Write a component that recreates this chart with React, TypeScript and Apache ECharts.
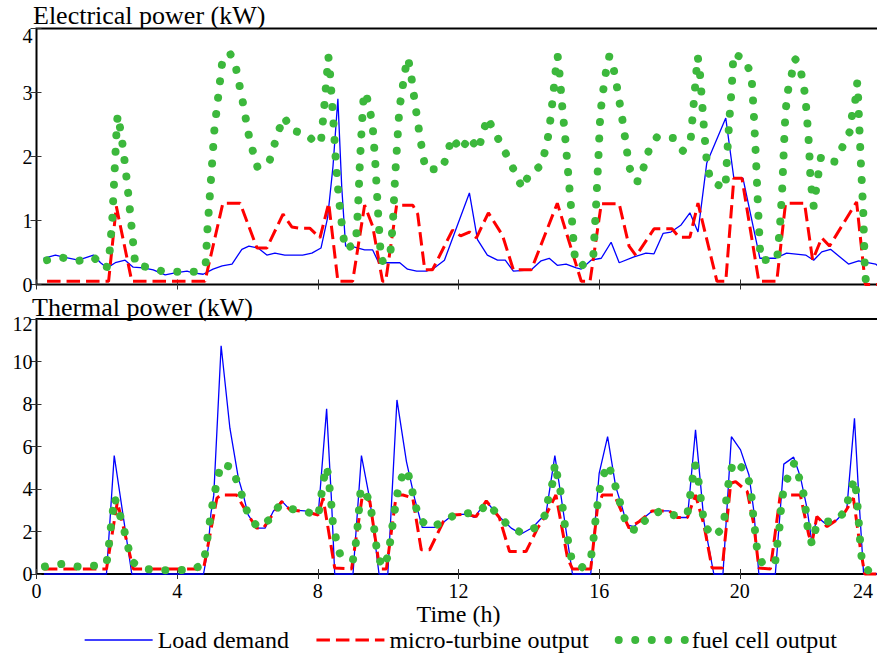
import React, { useEffect, useRef } from "react";
import * as echarts from "echarts";

// ---------- data (time in hours, power in kW) ----------
const X_MAX = 24;
const X_STEP = 4;
const ELEC_MAX = 4;
const ELEC_STEP = 1;
const THERM_MAX = 12;
const THERM_STEP = 2;

const TITLE_ELEC = "Electrical power (kW)";
const TITLE_THERM = "Thermal power (kW)";
const X_NAME = "Time (h)";
const NAME_LOAD = "Load demand";
const NAME_MT = "micro-turbine output";
const NAME_FC = "fuel cell output";

const elecLoad: [number, number][] = [[0.20,0.41],[0.54,0.46],[0.74,0.43],[1.19,0.38],[1.62,0.46],[1.82,0.34],[2.01,0.26],[2.24,0.34],[2.52,0.38],[2.75,0.27],[3.04,0.26],[3.32,0.23],[3.66,0.15],[3.94,0.18],[4.28,0.21],[4.45,0.18],[4.74,0.16],[5.02,0.24],[5.28,0.29],[5.56,0.32],[5.84,0.55],[6.04,0.60],[6.30,0.57],[6.55,0.46],[6.78,0.49],[7.06,0.46],[7.57,0.46],[7.83,0.49],[8.09,0.57],[8.28,1.05],[8.43,1.84],[8.57,2.90],[8.68,1.52],[8.79,0.60],[8.99,0.59],[9.33,0.54],[9.56,0.54],[9.73,0.34],[10.33,0.34],[10.55,0.24],[10.81,0.21],[11.09,0.21],[11.32,0.26],[11.60,0.38],[12.31,1.43],[12.54,0.70],[12.82,0.46],[13.11,0.38],[13.33,0.38],[13.56,0.21],[14.07,0.23],[14.35,0.37],[14.58,0.41],[14.81,0.30],[15.06,0.32],[15.35,0.26],[15.49,0.24],[15.77,0.38],[16.06,0.41],[16.34,0.66],[16.57,0.34],[16.99,0.43],[17.33,0.49],[17.56,0.48],[17.82,0.80],[18.04,0.82],[18.33,0.93],[18.58,1.12],[18.81,0.82],[19.06,1.90],[19.60,2.60],[19.83,1.66],[20.09,1.66],[20.57,0.41],[21.02,0.41],[21.33,0.49],[21.87,0.46],[22.10,0.38],[22.33,0.51],[22.58,0.55],[23.09,0.32],[23.38,0.37],[23.86,0.32],[24.00,0.26]];

const elecMT: [number, number][] = [[0.30,0.05],[2.05,0.05],[2.27,1.22],[2.71,0.05],[4.79,0.05],[5.30,1.27],[5.79,1.27],[6.27,0.57],[6.55,0.57],[7.01,1.10],[7.26,0.90],[7.49,0.88],[7.77,0.88],[8.06,0.73],[8.31,1.27],[8.57,0.05],[8.99,0.05],[9.33,1.24],[9.56,0.91],[9.84,0.05],[9.93,0.05],[10.24,1.24],[10.70,1.24],[10.84,1.10],[11.04,0.23],[11.26,0.23],[11.83,0.85],[12.06,0.76],[12.31,0.82],[12.51,0.73],[12.85,1.12],[13.25,0.77],[13.56,0.23],[14.07,0.23],[14.81,1.27],[15.49,0.05],[15.74,0.05],[16.06,1.26],[16.57,1.26],[16.85,0.60],[17.05,0.45],[17.56,0.87],[18.07,0.87],[18.27,0.74],[18.58,0.74],[18.81,1.27],[19.35,0.05],[19.60,0.05],[19.83,1.66],[20.06,1.66],[20.54,0.05],[21.05,0.05],[21.30,1.27],[21.84,1.27],[22.07,0.38],[22.33,0.73],[22.55,0.60],[23.32,1.29],[23.57,0.00],[24.00,0.00]];

const elecFC: [number, number][] = [[0.30,0.38],[0.73,0.42],[1.20,0.37],[1.63,0.42],[1.99,0.25],[2.07,0.45],[2.15,0.97],[2.22,1.76],[2.29,2.56],[2.32,2.65],[2.46,2.14],[2.57,1.62],[2.67,1.09],[2.81,0.30],[3.21,0.27],[3.61,0.20],[4.56,0.20],[4.81,0.32],[4.86,0.85],[4.96,1.63],[5.06,2.43],[5.17,2.95],[5.28,3.47],[5.50,3.62],[5.67,3.39],[5.86,2.87],[6.03,2.35],[6.15,2.09],[6.28,1.84],[6.60,1.88],[6.87,2.38],[7.04,2.62],[7.25,2.41],[7.68,2.35],[7.97,2.19],[8.09,2.24],[8.18,2.76],[8.26,3.29],[8.30,3.56],[8.33,3.43],[8.43,2.65],[8.52,1.86],[8.60,1.33],[8.71,0.81],[8.78,0.55],[9.08,0.64],[9.14,1.16],[9.20,1.95],[9.25,2.47],[9.31,3.00],[9.37,2.98],[9.48,2.73],[9.56,2.47],[9.63,1.94],[9.71,1.15],[9.80,0.36],[10.05,0.41],[10.13,0.93],[10.20,1.71],[10.26,2.23],[10.32,2.76],[10.40,3.03],[10.46,3.29],[10.56,3.54],[10.63,3.36],[10.76,2.84],[10.90,2.32],[11.06,1.80],[11.54,1.80],[11.68,2.05],[11.82,2.30],[12.07,2.09],[12.31,2.31],[12.56,2.10],[12.69,2.35],[12.82,2.61],[12.99,2.42],[13.21,2.19],[13.43,1.96],[13.64,1.71],[13.82,1.50],[14.02,1.74],[14.36,1.86],[14.47,2.11],[14.57,2.37],[14.68,2.90],[14.78,3.43],[14.82,3.57],[14.87,3.31],[14.95,2.78],[15.04,2.26],[15.12,1.73],[15.20,1.21],[15.27,0.68],[15.31,0.42],[15.47,0.28],[15.83,0.42],[15.91,1.21],[15.98,2.00],[16.02,2.52],[16.06,2.79],[16.12,3.05],[16.19,3.31],[16.29,3.57],[16.39,3.43],[16.48,3.17],[16.64,2.65],[16.78,2.13],[16.84,1.87],[16.98,1.62],[17.14,1.61],[17.28,1.86],[17.42,2.11],[17.65,2.31],[18.11,2.29],[18.38,2.09],[18.60,2.25],[18.68,2.77],[18.76,3.30],[18.80,3.56],[18.85,3.42],[18.92,2.90],[18.99,2.37],[19.07,1.85],[19.18,1.61],[19.59,1.50],[19.64,2.03],[19.70,2.56],[19.77,3.08],[19.82,3.61],[20.14,3.52],[20.33,3.27],[20.39,2.75],[20.46,1.96],[20.52,1.17],[20.59,0.38],[21.06,0.39],[21.14,0.91],[21.20,1.43],[21.24,1.96],[21.28,2.49],[21.31,2.75],[21.36,3.01],[21.47,3.27],[21.56,3.53],[21.67,3.46],[21.79,3.20],[21.86,2.94],[21.90,2.68],[21.97,2.15],[22.01,1.63],[22.07,1.36],[22.10,1.22],[22.17,1.49],[22.24,1.75],[22.31,2.00],[22.46,1.93],[22.69,1.92],[22.91,2.14],[23.12,2.38],[23.19,2.64],[23.28,2.86],[23.34,3.16],[23.36,2.98],[23.38,2.71],[23.44,1.92],[23.51,1.14],[23.55,0.35],[23.58,0.08],[23.90,0.00]];

const thermLoad: [number, number][] = [[0.21,0],[1.99,0],[2.21,5.57],[2.71,0],[4.75,0],[4.88,1.20],[4.96,2.85],[5.04,3.70],[5.25,10.74],[5.50,6.86],[5.74,4.51],[5.88,3.72],[6.02,2.78],[6.26,2.16],[6.50,2.16],[6.73,2.94],[6.97,3.44],[7.21,3.02],[7.63,2.97],[8.01,2.78],[8.25,7.77],[8.39,3.41],[8.48,0],[9.00,0],[9.24,5.57],[9.48,3.49],[9.74,0],[9.99,0],[10.25,8.19],[10.52,5.29],[10.75,3.57],[10.97,2.19],[11.37,2.19],[11.60,2.47],[11.84,2.78],[12.22,2.82],[12.45,2.66],[12.79,3.41],[13.16,2.70],[13.50,2.16],[13.78,1.88],[14.11,2.19],[14.49,2.86],[14.74,5.57],[14.91,3.72],[15.24,0],[15.76,0],[16.00,4.74],[16.24,6.46],[16.47,4.11],[16.66,3.10],[16.79,2.31],[16.99,2.23],[17.14,2.47],[17.51,2.97],[17.99,2.97],[18.22,2.66],[18.51,2.66],[18.58,3.88],[18.74,6.78],[18.89,4.11],[18.98,2.47],[19.26,0],[19.52,0],[19.76,6.46],[20.02,5.84],[20.26,4.66],[20.40,2.94],[20.54,0],[21.01,0],[21.25,5.17],[21.53,5.50],[21.72,4.58],[21.91,3.10],[22.05,1.45],[22.19,2.70],[22.48,2.31],[22.76,2.55],[23.04,3.02],[23.26,7.33],[23.38,3.72],[23.52,0],[24.00,0]];

const thermMT: [number, number][] = [[0.21,0.24],[1.99,0.24],[2.30,3.40],[2.75,0.24],[4.75,0.24],[5.13,3.57],[5.25,3.72],[5.69,3.72],[6.02,2.78],[6.26,2.16],[6.45,2.16],[6.97,3.41],[7.21,3.02],[7.63,2.94],[8.01,2.78],[8.15,3.57],[8.48,0.28],[8.96,0.24],[9.27,3.72],[9.48,3.41],[9.76,0.24],[9.95,0.24],[10.23,3.72],[10.42,3.72],[10.70,3.57],[10.94,1.14],[11.18,1.14],[11.57,2.47],[11.84,2.78],[12.22,2.82],[12.50,2.70],[12.79,3.44],[13.16,2.66],[13.45,1.06],[13.92,1.06],[14.25,2.16],[14.49,2.78],[14.77,3.72],[15.10,0.75],[15.24,0.24],[15.76,0.24],[15.95,3.10],[16.09,3.72],[16.43,3.72],[16.66,2.86],[16.85,2.16],[17.14,2.47],[17.51,2.97],[17.99,2.97],[18.22,2.66],[18.51,2.66],[18.74,3.72],[18.98,2.31],[19.21,0.28],[19.50,0.28],[19.74,4.27],[19.88,4.35],[20.21,3.88],[20.40,2.31],[20.54,0.28],[20.87,0.24],[21.15,3.72],[21.72,3.72],[21.96,1.84],[22.05,1.45],[22.19,2.70],[22.48,2.23],[22.76,2.55],[23.00,2.94],[23.23,3.57],[23.42,1.29],[23.55,0],[24.00,0]];

const thermFC: [number, number][] = [[0.24,0.35],[0.71,0.47],[1.17,0.35],[1.65,0.39],[1.99,0.47],[2.05,1.22],[2.10,2.00],[2.16,2.82],[2.22,3.60],[2.35,2.91],[2.48,2.16],[2.59,1.37],[2.71,0.59],[3.03,0.24],[3.49,0.18],[3.96,0.18],[4.43,0.20],[4.75,0.47],[4.82,1.22],[4.89,2.03],[4.96,2.83],[5.04,3.62],[5.14,4.38],[5.24,5.17],[5.55,5.03],[5.72,4.27],[5.88,3.52],[6.02,2.78],[6.29,2.19],[6.64,2.58],[6.90,3.22],[7.19,3.07],[7.63,2.97],[8.01,2.70],[8.08,3.49],[8.15,4.27],[8.23,5.05],[8.29,4.74],[8.34,3.96],[8.39,3.17],[8.43,2.35],[8.53,1.56],[8.65,0.82],[9.00,0.67],[9.08,1.45],[9.13,2.23],[9.17,3.02],[9.21,3.83],[9.33,4.04],[9.48,3.29],[9.57,2.50],[9.64,1.69],[9.69,0.90],[9.85,0.31],[10.01,0.90],[10.07,1.69],[10.14,2.47],[10.21,3.25],[10.29,4.04],[10.44,4.82],[10.54,4.90],[10.66,4.11],[10.76,3.33],[10.89,2.55],[11.23,2.19],[11.58,2.47],[11.89,2.78],[12.26,2.86],[12.60,2.94],[12.83,3.33],[13.14,2.74],[13.45,2.23],[13.82,1.92],[14.22,2.20],[14.49,2.84],[14.56,3.64],[14.70,4.43],[14.74,5.21],[14.82,4.54],[14.91,3.80],[14.97,3.02],[15.03,2.23],[15.13,1.45],[15.22,0.67],[15.51,0.31],[15.76,0.71],[15.83,1.50],[15.88,2.31],[15.94,3.10],[16.00,3.88],[16.11,4.62],[16.26,5.17],[16.41,4.43],[16.55,3.64],[16.67,2.86],[16.83,2.16],[17.11,2.03],[17.37,2.68],[17.75,2.97],[18.18,2.74],[18.51,2.83],[18.58,3.62],[18.65,4.40],[18.72,5.18],[18.81,4.58],[18.87,3.80],[18.93,3.02],[19.00,2.23],[19.29,1.76],[19.53,2.23],[19.59,3.02],[19.63,3.80],[19.71,4.58],[19.81,5.29],[20.16,4.90],[20.30,4.15],[20.35,3.36],[20.39,2.58],[20.45,1.80],[20.50,1.01],[20.66,0.43],[21.01,0.63],[21.07,1.45],[21.13,2.23],[21.17,3.05],[21.23,3.80],[21.37,4.58],[21.55,5.24],[21.69,4.51],[21.82,3.72],[21.88,2.94],[21.93,2.16],[22.05,1.41],[22.15,2.08],[22.36,2.47],[22.69,2.47],[23.03,2.99],[23.09,3.64],[23.26,4.46],[23.33,3.64],[23.36,2.86],[23.40,2.08],[23.43,1.29],[23.48,0.51],[23.71,0.04]];

// ---------- styling ----------
const FONT = "Liberation Serif";
const BLUE = "#0000ff";
const RED = "#ff0000";
const GREEN = "#3cb83c";

export default function App() {
  const ref = useRef<HTMLDivElement>(null);

  useEffect(() => {
    if (!ref.current) return;
    const chart = echarts.init(ref.current, undefined, { renderer: "svg" });

    const tick = (len: number) => ({
      show: true,
      inside: true,
      length: len,
      lineStyle: { color: "#333", width: 1 },
    });

    const xAxisBase = (gridIndex: number, position: string) => ({
      type: "value",
      gridIndex,
      position,
      min: 0,
      max: X_MAX,
      interval: X_STEP,
      axisLine: { show: false },
      axisTick: tick(5),
      splitLine: { show: false },
      axisLabel: { show: false },
    });

    const yLabel = (max: number, pad: number) => ({
      show: true,
      margin: 4,
      color: "#000",
      fontFamily: FONT,
      fontSize: 20,
      formatter: (v: number) => (v === max ? `{t|${v}}` : `${v}`),
      rich: { t: { padding: [pad, 0, 0, 0], fontFamily: FONT, fontSize: 20, color: "#000" } },
    });

    const yAxisBase = (gridIndex: number, position: string, max: number, step: number, label: any) => ({
      type: "value",
      gridIndex,
      position,
      min: 0,
      max,
      interval: step,
      axisLine: { show: false },
      axisTick: tick(position === "right" ? 6 : 5),
      splitLine: { show: false },
      axisLabel: label,
    });

    const lineSeries = (name: string, data: [number, number][], idx: number, kind: "load" | "mt" | "fc") => {
      const style =
        kind === "load"
          ? { color: BLUE, width: 1.3 }
          : kind === "mt"
          ? { color: RED, width: 3, type: [13.5, 6] }
          : { color: GREEN, width: 8, type: [0.01, 16.5], cap: "round" };
      return {
        type: "line",
        name,
        xAxisIndex: idx * 2,
        yAxisIndex: idx * 2,
        data,
        symbol: "none",
        showSymbol: false,
        clip: false,
        itemStyle: { color: style.color },
        lineStyle: style,
        z: kind === "load" ? 2 : kind === "mt" ? 3 : 4,
      };
    };

    const hiddenSymbol = { color: "rgba(0,0,0,0)", borderWidth: 0, opacity: 0 };

    const option: any = {
      animation: false,
      backgroundColor: "#fff",
      title: [
        { text: TITLE_ELEC, left: 33, top: 2, padding: 0, textStyle: { fontFamily: FONT, fontSize: 26, fontWeight: "normal", color: "#000" } },
        { text: TITLE_THERM, left: 32, top: 294, padding: 0, textStyle: { fontFamily: FONT, fontSize: 26, fontWeight: "normal", color: "#000" } },
      ],
      grid: [
        { left: 36.5, top: 28.5, width: 844, height: 256, show: true, borderColor: "#000", borderWidth: 2, backgroundColor: "transparent" },
        { left: 36.5, top: 319, width: 844, height: 255, show: true, borderColor: "#000", borderWidth: 2, backgroundColor: "transparent" },
      ],
      xAxis: [
        xAxisBase(0, "bottom"),
        xAxisBase(0, "top"),
        {
          ...xAxisBase(1, "bottom"),
          axisLabel: {
            show: true,
            margin: 7,
            color: "#000",
            fontFamily: FONT,
            fontSize: 20,
            formatter: (v: number) => (v === X_MAX ? `{e|${v}}` : `${v}`),
            rich: { e: { padding: [0, 35, 0, 0], fontFamily: FONT, fontSize: 20, color: "#000" } },
          },
          name: X_NAME,
          nameLocation: "middle",
          nameGap: 22,
          nameTextStyle: { fontFamily: FONT, fontSize: 24, color: "#000" },
        },
        xAxisBase(1, "top"),
      ],
      yAxis: [
        yAxisBase(0, "left", ELEC_MAX, ELEC_STEP, yLabel(ELEC_MAX, 14)),
        yAxisBase(0, "right", ELEC_MAX, ELEC_STEP, { show: false }),
        yAxisBase(1, "left", THERM_MAX, THERM_STEP, yLabel(THERM_MAX, 10)),
        yAxisBase(1, "right", THERM_MAX, THERM_STEP, { show: false }),
      ],
      legend: {
        left: 79,
        top: 623,
        itemWidth: 68,
        itemHeight: 14,
        itemGap: 26,
        selectedMode: false,
        itemStyle: hiddenSymbol,
        textStyle: { fontFamily: FONT, fontSize: 24, color: "#000" },
        data: [
          { name: NAME_LOAD, lineStyle: { width: 1.3 }, itemStyle: hiddenSymbol },
          { name: NAME_MT, lineStyle: { width: 3 }, itemStyle: hiddenSymbol },
          { name: NAME_FC, lineStyle: { width: 8 }, itemStyle: hiddenSymbol },
        ],
      },
      series: [
        lineSeries(NAME_LOAD, elecLoad, 0, "load"),
        lineSeries(NAME_MT, elecMT, 0, "mt"),
        lineSeries(NAME_FC, elecFC, 0, "fc"),
        lineSeries(NAME_LOAD, thermLoad, 1, "load"),
        lineSeries(NAME_MT, thermMT, 1, "mt"),
        lineSeries(NAME_FC, thermFC, 1, "fc"),
      ],
    };

    chart.setOption(option);
    return () => chart.dispose();
  }, []);

  return (
    <div
      style={{
        position: "fixed",
        left: 0,
        top: 0,
        width: 877,
        height: 653,
        overflow: "hidden",
        background: "#fff",
      }}
    >
      <div ref={ref} style={{ width: 900, height: 653 }} />
    </div>
  );
}
